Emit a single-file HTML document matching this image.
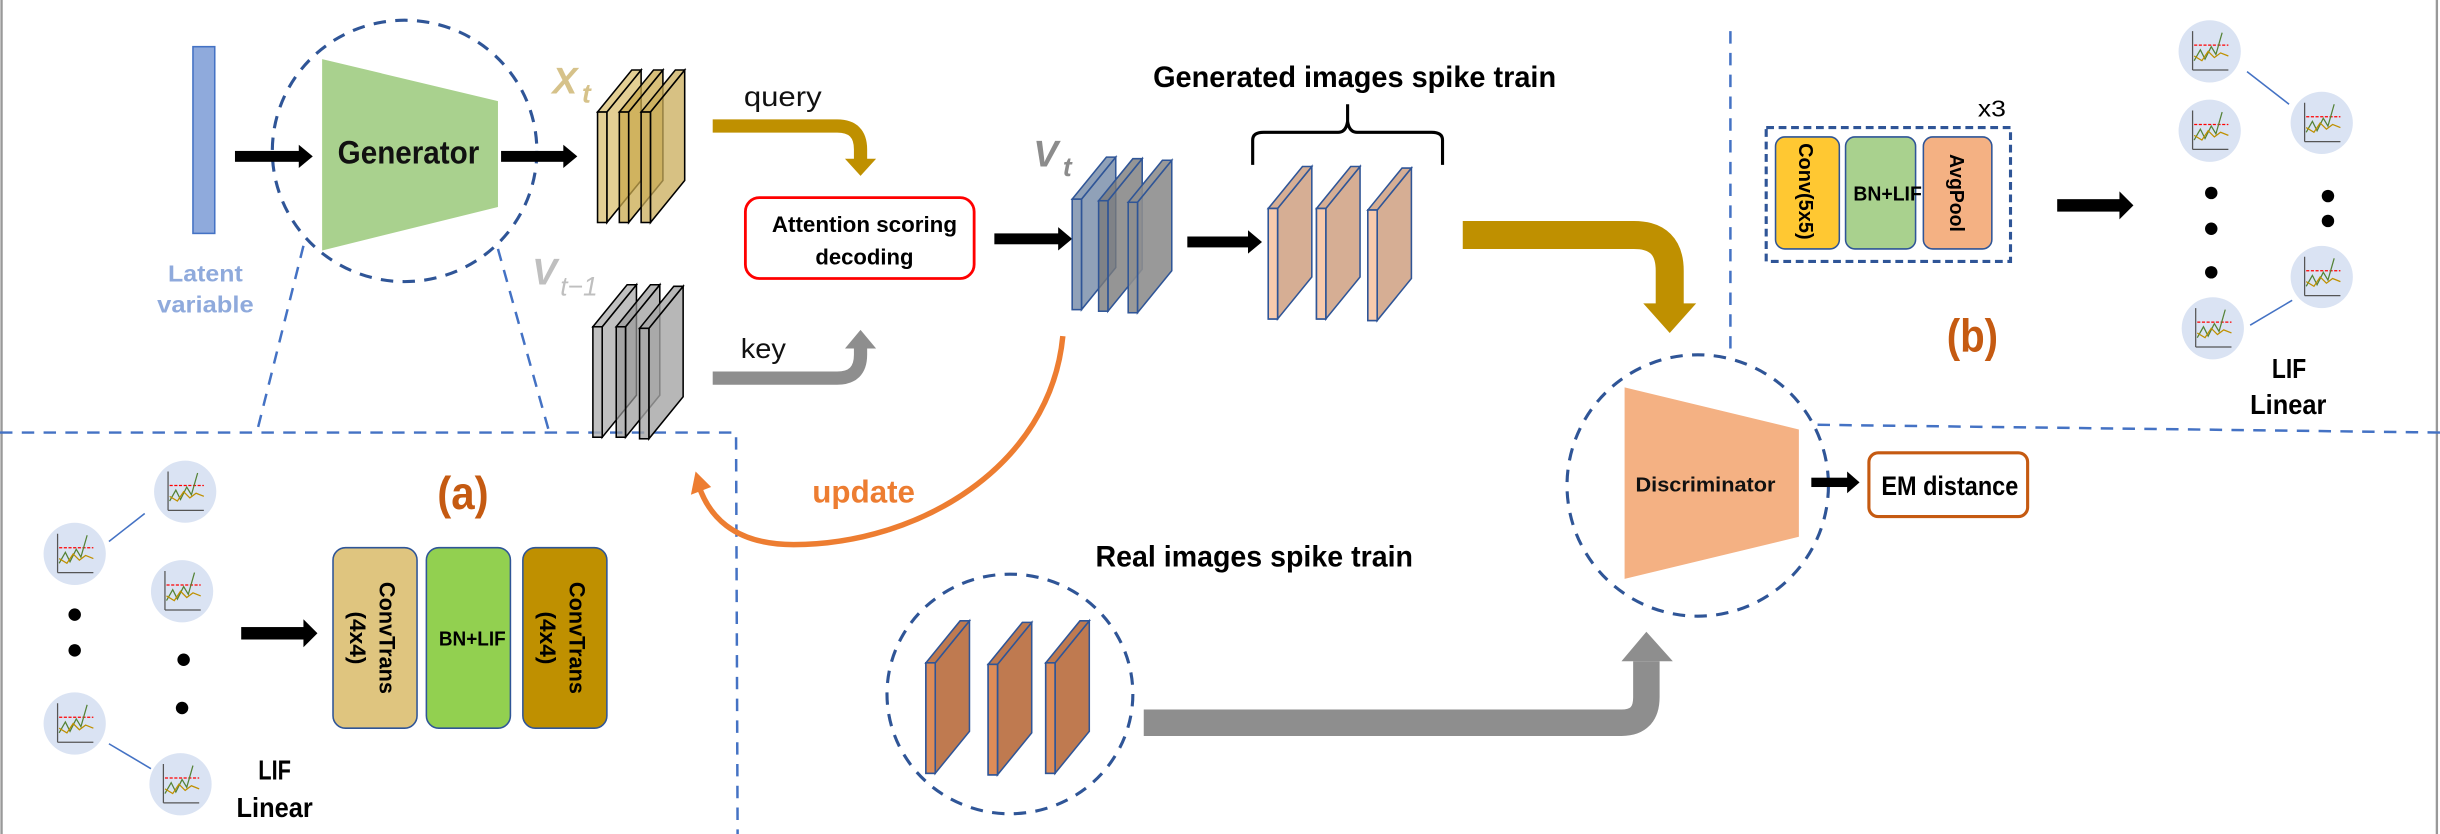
<!DOCTYPE html>
<html><head><meta charset="utf-8"><style>
html,body{margin:0;padding:0;background:#fff}
svg{display:block}
text{font-family:"Liberation Sans",sans-serif}
</style></head><body>
<svg width="2440" height="834" viewBox="0 0 1568 536" preserveAspectRatio="none" xmlns="http://www.w3.org/2000/svg">
<defs>
<g id="slab">
  <polygon points="6,27 28,0 28,71 6,98"/>
  <polygon points="0,27 22,0 28,0 6,27"/>
  <rect x="0" y="27" width="6" height="71"/>
</g>
</defs>
<rect x="0" y="0" width="1568" height="536" fill="#fff"/>
<line x1="1" y1="0" x2="1" y2="536" stroke="#999" stroke-width="1.5"/>
<line x1="1566" y1="0" x2="1566" y2="536" stroke="#999" stroke-width="1.5"/>

<g stroke="#4472c4" stroke-width="1.6" stroke-dasharray="8,6" fill="none">
  <polyline points="0,278 473,278 474,536"/>
  <line x1="195" y1="158" x2="165" y2="278"/>
  <line x1="320" y1="160" x2="353" y2="278"/>
  <line x1="1112" y1="20" x2="1112" y2="228"/>
  <line x1="1168" y1="273" x2="1568" y2="278"/>
</g>

<rect x="124" y="30" width="14" height="120" fill="#8faadc" stroke="#4472c4" stroke-width="1"/>
<text x="108" y="181" font-size="15" font-weight="bold" fill="#8faadc" textLength="48" lengthAdjust="spacingAndGlyphs">Latent</text>
<text x="101" y="201" font-size="15" font-weight="bold" fill="#8faadc" textLength="62" lengthAdjust="spacingAndGlyphs">variable</text>

<ellipse cx="260" cy="97" rx="85" ry="84" fill="none" stroke="#2f5597" stroke-width="2" stroke-dasharray="8,6"/>
<polygon points="207,38 320,65 320,133 207,161" fill="#a9d18e"/>
<text x="217" y="105" font-size="21" font-weight="bold" fill="#111" textLength="91" lengthAdjust="spacingAndGlyphs">Generator</text>
<g fill="#000">
  <rect x="151" y="97" width="42" height="7"/><polygon points="192,93 201,100.5 192,108"/>
  <rect x="322" y="97" width="41" height="7"/><polygon points="362,93 371,100.5 362,108"/>
</g>

<text x="355" y="60" font-family="Liberation Serif,serif" font-size="24" font-style="italic" font-weight="bold" fill="#d6c28a">X</text>
<text x="374" y="66" font-family="Liberation Serif,serif" font-size="17" font-style="italic" font-weight="bold" fill="#d6c28a">t</text>
<g stroke="#000" stroke-width="1">
  <use href="#slab" x="384" y="45" fill="#d9bf70" fill-opacity="0.75"/>
  <use href="#slab" x="398" y="45" fill="#caa94e" fill-opacity="0.75"/>
  <use href="#slab" x="412" y="45" fill="#c9ac5a" fill-opacity="0.75"/>
</g>
<text x="478" y="68" font-size="18" fill="#111" textLength="50" lengthAdjust="spacingAndGlyphs">query</text>
<path d="M458,81 H538 Q553,81 553,96 V104" fill="none" stroke="#bf9000" stroke-width="8.5"/>
<polygon points="543,102 563,102 553,113" fill="#bf9000"/>

<text x="342" y="183" font-family="Liberation Serif,serif" font-size="24" font-style="italic" font-weight="bold" fill="#bfbfbf">V</text>
<text x="360" y="190" font-family="Liberation Serif,serif" font-size="17" font-style="italic" fill="#bfbfbf">t−1</text>
<g stroke="#000" stroke-width="1">
  <use href="#slab" x="381" y="183" fill="#b0b0b0" fill-opacity="0.8"/>
  <use href="#slab" x="396" y="183" fill="#999" fill-opacity="0.7"/>
  <use href="#slab" x="411" y="184" fill="#a5a5a5" fill-opacity="0.8"/>
</g>
<text x="476" y="230" font-size="18" fill="#111" textLength="29" lengthAdjust="spacingAndGlyphs">key</text>
<path d="M458,243 H538 Q553,243 553,228 V222" fill="none" stroke="#8e8e8e" stroke-width="8.5"/>
<polygon points="543,224 563,224 553,212" fill="#8e8e8e"/>

<rect x="479" y="127" width="147" height="52" rx="9" fill="#fff" stroke="#ff0000" stroke-width="1.8"/>
<text x="496" y="149" font-size="14" font-weight="bold" fill="#000" textLength="119" lengthAdjust="spacingAndGlyphs">Attention scoring</text>
<text x="524" y="170" font-size="14" font-weight="bold" fill="#000" textLength="63" lengthAdjust="spacingAndGlyphs">decoding</text>
<g fill="#000">
  <rect x="639" y="150" width="42" height="7"/><polygon points="680,146 689,153.5 680,161"/>
  <rect x="763" y="152" width="40" height="7"/><polygon points="802,148 811,155.5 802,163"/>
</g>

<text x="664" y="107" font-family="Liberation Serif,serif" font-size="24" font-style="italic" font-weight="bold" fill="#8c8c8c">V</text>
<text x="683" y="113" font-family="Liberation Serif,serif" font-size="17" font-style="italic" font-weight="bold" fill="#8c8c8c">t</text>
<g stroke="#2f5597" stroke-width="1">
  <use href="#slab" x="689" y="101" fill="#8497b0" fill-opacity="0.9"/>
  <use href="#slab" x="706" y="102" fill="#7a7a7a" fill-opacity="0.8"/>
  <use href="#slab" x="725" y="103" fill="#8e8e8e" fill-opacity="0.9"/>
</g>

<text x="741" y="56" font-size="19" font-weight="bold" fill="#000" textLength="259" lengthAdjust="spacingAndGlyphs">Generated images spike train</text>
<path d="M805,106 V90 Q805,85 812,85 H860 Q865,85 866,78 V67 M866,78 Q867,85 872,85 H920 Q927,85 927,90 V106" fill="none" stroke="#000" stroke-width="2"/>
<g stroke="#2f5597" stroke-width="1">
  <use href="#slab" x="815" y="107" fill="#d6ae94"/>
  <use href="#slab" x="846" y="107" fill="#d6ae94"/>
  <use href="#slab" x="879" y="108" fill="#d6ae94"/>
</g>
<g fill="#f8cbad" stroke="#2f5597" stroke-width="1">
  <rect x="815" y="134" width="6" height="71"/><rect x="846" y="134" width="6" height="71"/><rect x="879" y="135" width="6" height="71"/>
</g>
<path d="M940,151 H1050 Q1073,151 1073,174 V196" fill="none" stroke="#bf9000" stroke-width="18"/>
<polygon points="1056,195 1090,195 1073,214" fill="#bf9000"/>

<path d="M683,216 C675,300 590,350 510,350 C470,350 455,330 449,312" fill="none" stroke="#ed7d31" stroke-width="3.5"/>
<polygon points="444,318 447,303 457,313" fill="#ed7d31"/>
<text x="522" y="323" font-size="20" font-weight="bold" fill="#ed7d31" textLength="66" lengthAdjust="spacingAndGlyphs">update</text>

<text x="1271" y="75" font-size="15" fill="#000" textLength="18" lengthAdjust="spacingAndGlyphs">x3</text>
<rect x="1135" y="82" width="157" height="86" fill="none" stroke="#2f5597" stroke-width="2" stroke-dasharray="5,3"/>
<rect x="1141" y="88" width="41" height="72" rx="6" fill="#ffc832" stroke="#2f5597" stroke-width="1"/>
<rect x="1186" y="88" width="45" height="72" rx="6" fill="#a9d18e" stroke="#2f5597" stroke-width="1"/>
<rect x="1236" y="88" width="44" height="72" rx="6" fill="#f4b183" stroke="#2f5597" stroke-width="1"/>
<text transform="translate(1156,92) rotate(90)" font-size="13" font-weight="bold" fill="#000" textLength="62" lengthAdjust="spacingAndGlyphs">Conv(5x5)</text>
<text x="1191" y="129" font-size="13" font-weight="bold" fill="#000" textLength="44" lengthAdjust="spacingAndGlyphs">BN+LIF</text>
<text transform="translate(1253,99) rotate(90)" font-size="13" font-weight="bold" fill="#000" textLength="50" lengthAdjust="spacingAndGlyphs">AvgPool</text>
<g fill="#000"><rect x="1322" y="128" width="41" height="8"/><polygon points="1362,123 1371,132 1362,141"/></g>
<text x="1251" y="226" font-size="30" font-weight="bold" fill="#c55a11" textLength="33" lengthAdjust="spacingAndGlyphs">(b)</text>

<g fill="#dae3f3">
  <circle cx="1420" cy="33" r="20"/><circle cx="1420" cy="84" r="20"/><circle cx="1492" cy="79" r="20"/><circle cx="1492" cy="178" r="20"/><circle cx="1422" cy="211" r="20"/>
  <circle cx="119" cy="316" r="20"/><circle cx="48" cy="356" r="20"/><circle cx="117" cy="380" r="20"/><circle cx="48" cy="465" r="20"/><circle cx="116" cy="504" r="20"/>
</g>
<g fill="none" stroke-width="0.8">
  <g id="mini" transform="translate(1420,33)">
    <path d="M-11,12 V-13 M-11,12 H12" stroke="#555"/>
    <path d="M-10,-4 H12" stroke="#f00" stroke-dasharray="2,1"/>
    <path d="M-10,6 L-6,-1 L-3,5 L1,-3 L4,2 L8,-12" stroke="#548235"/>
    <path d="M-10,3 L-5,6 L-1,0 L3,4 L7,1 L12,3" stroke="#bf9000"/>
  </g>
  <use href="#mini" x="0" y="51"/><use href="#mini" x="72" y="46"/><use href="#mini" x="72" y="145"/><use href="#mini" x="2" y="178"/>
  <use href="#mini" x="-1301" y="283"/><use href="#mini" x="-1372" y="323"/><use href="#mini" x="-1303" y="347"/><use href="#mini" x="-1372" y="432"/><use href="#mini" x="-1304" y="471"/>
</g>
<g stroke="#4472c4" stroke-width="1">
  <line x1="1444" y1="46" x2="1471" y2="67"/><line x1="1446" y1="209" x2="1473" y2="193"/>
  <line x1="70" y1="348" x2="93" y2="330"/><line x1="70" y1="478" x2="97" y2="494"/>
</g>
<g fill="#000">
  <circle cx="1421" cy="124" r="4"/><circle cx="1421" cy="147" r="4"/><circle cx="1421" cy="175" r="4"/><circle cx="1496" cy="126" r="4"/><circle cx="1496" cy="142" r="4"/>
  <circle cx="48" cy="395" r="4"/><circle cx="48" cy="418" r="4"/><circle cx="118" cy="424" r="4"/><circle cx="117" cy="455" r="4"/>
</g>
<text x="1460" y="243" font-size="18" font-weight="bold" fill="#000" textLength="22" lengthAdjust="spacingAndGlyphs">LIF</text>
<text x="1446" y="266" font-size="18" font-weight="bold" fill="#000" textLength="49" lengthAdjust="spacingAndGlyphs">Linear</text>

<ellipse cx="1091" cy="312" rx="84" ry="84" fill="none" stroke="#2f5597" stroke-width="2" stroke-dasharray="8,6"/>
<polygon points="1044,249 1156,276 1156,345 1044,372" fill="#f4b183"/>
<text x="1051" y="316" font-size="13" font-weight="bold" fill="#111" textLength="90" lengthAdjust="spacingAndGlyphs">Discriminator</text>
<g fill="#000"><rect x="1164" y="307" width="24" height="6"/><polygon points="1187,303 1195,310 1187,317"/></g>
<rect x="1201" y="291" width="102" height="41" rx="6" fill="#fff" stroke="#c55a11" stroke-width="2"/>
<text x="1209" y="318" font-size="17" font-weight="bold" fill="#000" textLength="88" lengthAdjust="spacingAndGlyphs">EM distance</text>

<text x="281" y="327" font-size="30" font-weight="bold" fill="#c55a11" textLength="33" lengthAdjust="spacingAndGlyphs">(a)</text>
<g fill="#000"><rect x="155" y="403" width="41" height="8"/><polygon points="195,398 204,407 195,416"/></g>
<rect x="214" y="352" width="54" height="116" rx="8" fill="#dfc57f" stroke="#2f5597" stroke-width="1"/>
<rect x="274" y="352" width="54" height="116" rx="8" fill="#92d050" stroke="#2f5597" stroke-width="1"/>
<rect x="336" y="352" width="54" height="116" rx="8" fill="#bf9000" stroke="#2f5597" stroke-width="1"/>
<text transform="translate(244,374) rotate(90)" font-size="14" font-weight="bold" fill="#000" textLength="72" lengthAdjust="spacingAndGlyphs">ConvTrans</text>
<text transform="translate(225,393) rotate(90)" font-size="14" font-weight="bold" fill="#000" textLength="34" lengthAdjust="spacingAndGlyphs">(4x4)</text>
<text x="282" y="415" font-size="13" font-weight="bold" fill="#000" textLength="43" lengthAdjust="spacingAndGlyphs">BN+LIF</text>
<text transform="translate(366,374) rotate(90)" font-size="14" font-weight="bold" fill="#000" textLength="72" lengthAdjust="spacingAndGlyphs">ConvTrans</text>
<text transform="translate(347,393) rotate(90)" font-size="14" font-weight="bold" fill="#000" textLength="34" lengthAdjust="spacingAndGlyphs">(4x4)</text>
<text x="166" y="501" font-size="18" font-weight="bold" fill="#000" textLength="21" lengthAdjust="spacingAndGlyphs">LIF</text>
<text x="152" y="525" font-size="18" font-weight="bold" fill="#000" textLength="49" lengthAdjust="spacingAndGlyphs">Linear</text>

<text x="704" y="364" font-size="19" font-weight="bold" fill="#000" textLength="204" lengthAdjust="spacingAndGlyphs">Real images spike train</text>
<ellipse cx="649" cy="446" rx="79" ry="77" fill="none" stroke="#2f5597" stroke-width="2" stroke-dasharray="8,6"/>
<g stroke="#2f5597" stroke-width="1">
  <use href="#slab" x="595" y="399" fill="#bf7a50"/>
  <use href="#slab" x="635" y="400" fill="#bf7a50"/>
  <use href="#slab" x="672" y="399" fill="#bf7a50"/>
</g>
<g fill="#dd8c58" stroke="#2f5597" stroke-width="1">
  <rect x="595" y="426" width="6" height="71"/><rect x="635" y="427" width="6" height="71"/><rect x="672" y="426" width="6" height="71"/>
</g>
<path d="M735,464.5 H1042 Q1058,464.5 1058,448 V425" fill="none" stroke="#8e8e8e" stroke-width="17"/>
<polygon points="1042,425 1075,425 1058,406" fill="#8e8e8e"/>
</svg>
</body></html>
